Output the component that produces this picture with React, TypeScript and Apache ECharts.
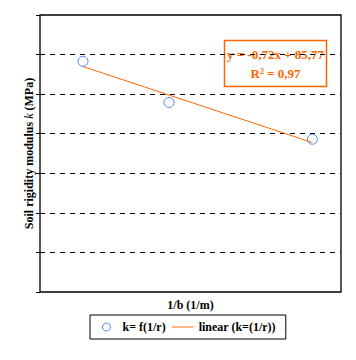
import React, { useEffect, useRef } from "react";
import * as echarts from "echarts";

const kX = [40, 50, 66.67];
const kY = [58.3, 47.9, 38.6];
const trendSlope = -0.72;
const trendIntercept = 85.77;
const r2 = 0.97;
const seriesNames = ["k= f(1/r)", "linear (k=(1/r))"];

const FONT = "'Liberation Serif', 'Times New Roman', serif";
const ORANGE = "#FF6600";
const BLUE = "#3366FF";

const GRID = { left: 40, right: 15, top: 15, bottom: 68 };
const W = 356;
const H = 360;

const fmt = (v: number) => v.toFixed(2).replace(".", ",");

export default function App() {
  const ref = useRef<HTMLDivElement>(null);
  useEffect(() => {
    if (!ref.current) return;
    const chart = echarts.init(ref.current, null, { renderer: "svg" });
    const x0 = kX[0];
    const x1 = kX[kX.length - 1];
    const trend = [x0, x1].map((x) => [x, trendSlope * x + trendIntercept]);
    const eq = `y = ${trendSlope < 0 ? "-" : ""}${fmt(Math.abs(trendSlope))}x + ${fmt(trendIntercept)}`;
    chart.setOption({
      animation: false,
      backgroundColor: "#fff",
      textStyle: { fontFamily: FONT },
      grid: GRID,
      xAxis: {
        type: "value",
        min: 35,
        max: 70,
        axisLabel: { show: false },
        axisTick: { show: false },
        splitLine: { show: false },
        axisLine: { show: false },
        name: "1/b (1/m)",
        nameLocation: "middle",
        nameGap: 7,
        nameTextStyle: { fontFamily: FONT, fontWeight: "bold", fontSize: 12, color: "#000" },
      },
      yAxis: {
        type: "value",
        min: 0,
        max: 70,
        interval: 10,
        axisLabel: { show: false },
        axisTick: { show: true, length: 4, lineStyle: { color: "#000" } },
        axisLine: { show: false },
        splitLine: {
          show: true,
          showMinLine: false,
          showMaxLine: false,
          lineStyle: { color: "#000", type: [5, 5], width: 1 },
        },
        name: "{b|Soil rigidity modulus }{i|k}{b| (MPa)}",
        nameLocation: "middle",
        nameGap: 5,
        nameTextStyle: {
          rich: {
            b: { fontFamily: FONT, fontWeight: "bold", fontSize: 12, color: "#000" },
            i: { fontFamily: FONT, fontStyle: "italic", fontSize: 12, color: "#000" },
          },
        },
      },
      legend: {
        left: 90,
        top: 315,
        orient: "horizontal",
        borderColor: "#000",
        borderWidth: 1,
        padding: [6, 10, 6, 12],
        itemGap: 6,
        itemWidth: 22,
        itemHeight: 8,
        textStyle: { fontFamily: FONT, fontWeight: "bold", fontSize: 12, color: "#000" },
        data: [
          {
            name: seriesNames[0],
            icon: "circle",
            itemStyle: { color: "rgba(0,0,0,0)", borderColor: BLUE, borderWidth: 1 },
          },
          { name: seriesNames[1], icon: "path://M0,0L24,0L24,1L0,1Z" },
        ],
      },
      series: [
        {
          name: seriesNames[0],
          type: "scatter",
          symbol: "circle",
          symbolSize: 10,
          itemStyle: { color: "rgba(0,0,0,0)", borderColor: BLUE, borderWidth: 1 },
          data: kX.map((x, i) => [x, kY[i]]),
          z: 3,
        },
        {
          name: seriesNames[1],
          type: "line",
          symbol: "none",
          lineStyle: { color: ORANGE, width: 1 },
          itemStyle: { color: ORANGE },
          data: trend,
          z: 2,
        },
      ],
      graphic: [
        {
          type: "rect",
          z: 50,
          silent: true,
          shape: {
            x: GRID.left,
            y: GRID.top,
            width: W - GRID.left - GRID.right,
            height: H - GRID.top - GRID.bottom,
          },
          style: { fill: "none", stroke: "#000", lineWidth: 1.3 },
        },
        {
          type: "group",
          left: 222,
          top: 38,
          z: 50,
          children: [
            {
              type: "rect",
              shape: { x: 0, y: 0, width: 102, height: 46 },
              style: { fill: "none", stroke: ORANGE, lineWidth: 1.5 },
            },
            {
              type: "text",
              x: 51,
              y: 14,
              style: {
                text: eq,
                fill: ORANGE,
                font: `bold 13px ${FONT}`,
                align: "center",
                verticalAlign: "middle",
              },
            },
            {
              type: "text",
              x: 51,
              y: 33,
              style: {
                text: `{r|R}{s|2}{r| = ${fmt(r2)}}`,
                align: "center",
                verticalAlign: "middle",
                rich: {
                  r: { fill: ORANGE, fontFamily: FONT, fontWeight: "bold", fontSize: 13, verticalAlign: "bottom" },
                  s: { fill: ORANGE, fontFamily: FONT, fontWeight: "bold", fontSize: 8, verticalAlign: "top" },
                },
              },
            },
          ],
        },
      ],
    });
    return () => chart.dispose();
  }, []);
  return (
    <div
      ref={ref}
      style={{ position: "absolute", left: 0, top: 0, width: W, height: H }}
    />
  );
}
